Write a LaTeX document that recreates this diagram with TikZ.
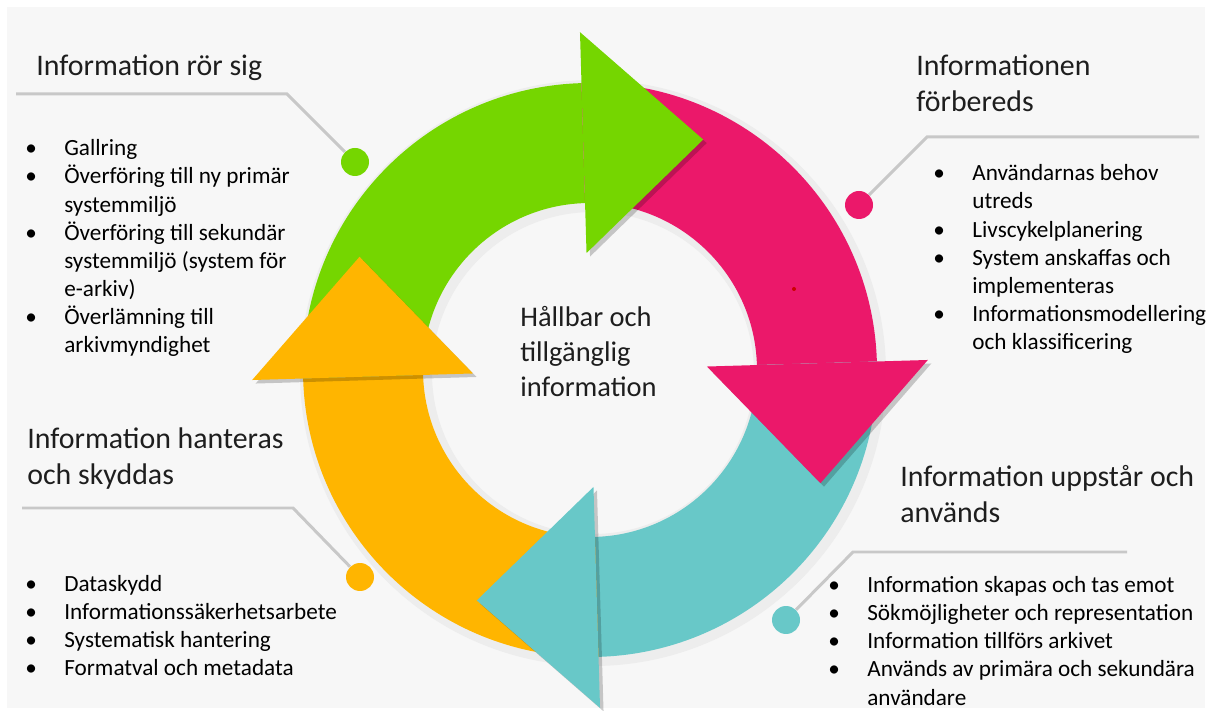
\documentclass[tikz,border=0pt]{standalone}
\usepackage{fontspec}
\setmainfont{Carlito}
\usepackage{xcolor}
\usetikzlibrary{calc,shadows}
\definecolor{cycgreen}{RGB}{117,214,0}
\definecolor{cycpink}{RGB}{235,24,106}
\definecolor{cycteal}{RGB}{104,200,200}
\definecolor{cycorange}{RGB}{255,181,0}
\definecolor{bggray}{RGB}{247,247,247}
\definecolor{linegray}{RGB}{200,200,200}
\definecolor{textdark}{RGB}{30,30,30}
\newcommand{\bitem}{\makebox[0.78cm][l]{\textbullet}}
\newcommand{\bcont}{\hspace*{0.78cm}}

\begin{document}
\begin{tikzpicture}[x=0.02cm,y=0.02cm,
  leader/.style={draw=linegray,line width=1.7pt},
  dot/.style={circle,inner sep=0pt,minimum size=0.56cm},
  title/.style={anchor=base west,inner sep=0pt,align=left,text=textdark,font=\fontsize{17}{20.8}\selectfont},
  list/.style={anchor=base west,inner sep=0pt,align=left,text=black,font=\fontsize{13.2}{16.05}\selectfont},
  headshade/.style={drop shadow={shadow xshift=2pt,shadow yshift=-2pt,opacity=0.2,fill=black}}]
\useasboundingbox (0,0) rectangle (1207,710);
\fill[white] (0,0) rectangle (1207,710);
\fill[bggray] (7,2) rectangle (1205,703);

% the cycle, centred at (590,340)
\begin{scope}[shift={(590,340)}]
% soft halo round the ring
\fill[black!7,even odd rule,shift={(3,-3)}] (0,0) circle[radius=293] (0,0) circle[radius=161];
% the four bands
\fill[cycgreen] (181.7:287) arc[start angle=181.7,end angle=91.7,radius=287] -- (91.7:167) arc[start angle=91.7,end angle=181.7,radius=167] -- cycle;
\fill[cycpink] (91.7:287) arc[start angle=91.7,end angle=1.7,radius=287] -- (1.7:167) arc[start angle=1.7,end angle=91.7,radius=167] -- cycle;
\fill[cycteal] (1.7:287) arc[start angle=1.7,end angle=-88.3,radius=287] -- (-88.3:167) arc[start angle=-88.3,end angle=1.7,radius=167] -- cycle;
\fill[cycorange] (271.7:287) arc[start angle=271.7,end angle=181.7,radius=287] -- (181.7:167) arc[start angle=181.7,end angle=271.7,radius=167] -- cycle;
% arrow heads
\fill[cycgreen,headshade] (91.7:117) -- (91.7:338) -- ($(91.7:227)+(1.7:120)$) -- cycle;
\fill[cycpink,headshade] (1.7:117) -- (1.7:338) -- ($(1.7:227)+(-88.3:120)$) -- cycle;
\fill[cycteal,headshade] (-88.3:117) -- (-88.3:338) -- ($(-88.3:227)+(-178.3:120)$) -- cycle;
\fill[cycorange,headshade] (181.7:117) -- (181.7:338) -- ($(181.7:227)+(91.7:120)$) -- cycle;
\end{scope}
\fill[red!80!black] (794,421) circle[radius=2];

% multi-line nodes sit on their last baseline
\node[anchor=base west,inner sep=0pt,align=left,text=textdark,font=\fontsize{16.2}{20.2}\selectfont] (core) at (520,313) {Hållbar och\\tillgänglig\\information};

% dots and leader lines
\node[dot,fill=cycgreen] (gdot) at (355,548) {};
\coordinate (gbend) at (287,616);
\coordinate (gend) at (16,616);
\draw[leader] (gdot) -- (gbend) -- (gend);

\node[dot,fill=cycpink] (pdot) at (859,505) {};
\coordinate (pbend) at (927,573);
\coordinate (pend) at (1199,573);
\draw[leader] (pdot) -- (pbend) -- (pend);

\node[dot,fill=cycorange] (odot) at (360,133) {};
\coordinate (obend) at (293,202);
\coordinate (oend) at (22,202);
\draw[leader] (odot) -- (obend) -- (oend);

\node[dot,fill=cycteal] (tdot) at (786,90) {};
\coordinate (tbend) at (853,158);
\coordinate (tend) at (1127,158);
\draw[leader] (tdot) -- (tbend) -- (tend);

% headings
\node[title] (gtitle) at (36,634) {Information rör sig};
\node[title] (ptitle) at (916,598) {Informationen\\förbereds};
\node[title] (otitle) at (27,225) {Information hanteras\\och skyddas};
\node[title] (ttitle) at (900,187) {Information uppstår och\\används};

% bullet lists
\node[list] (glist) at (25,357) {\bitem Gallring\\ \bitem Överföring till ny primär\\ \bcont systemmiljö\\ \bitem Överföring till sekundär\\ \bcont systemmiljö (system för\\ \bcont e-arkiv)\\ \bitem Överlämning till\\ \bcont arkivmyndighet};
\node[list] (plist) at (933,360) {\bitem Användarnas behov\\ \bcont utreds\\ \bitem Livscykelplanering\\ \bitem System anskaffas och\\ \bcont implementeras\\ \bitem Informationsmodellering\\ \bcont och klassificering};
\node[list] (olist) at (25,34) {\bitem Dataskydd\\ \bitem Informationssäkerhetsarbete\\ \bitem Systematisk hantering\\ \bitem Formatval och metadata};
\node[list] (tlist) at (828,5) {\bitem Information skapas och tas emot\\ \bitem Sökmöjligheter och representation\\ \bitem Information tillförs arkivet\\ \bitem Används av primära och sekundära\\ \bcont användare};
\end{tikzpicture}
\end{document}
